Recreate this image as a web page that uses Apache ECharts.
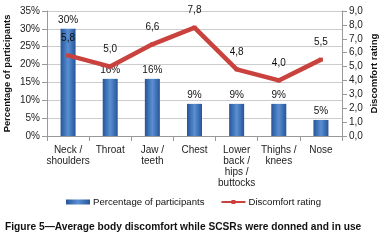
<!DOCTYPE html>
<html><head><meta charset="utf-8">
<script src="https://cdn.jsdelivr.net/npm/echarts@6/dist/echarts.min.js"></script>
<style>html,body{margin:0;padding:0;background:#fff}#c{width:385px;height:246px}</style>
</head><body><div id="c"></div>
<script>
const categories = ["Neck /\nshoulders", "Throat", "Jaw /\nteeth", "Chest", "Lower\nback /\nhips /\nbuttocks", "Thighs /\nknees", "Nose"];
const percentage = [30, 16, 16, 9, 9, 9, 4.5];
const discomfort = [5.8, 5.0, 6.6, 7.8, 4.8, 4.0, 5.5];
const leftTicks = [0, 35, 5];
const rightTicks = [0, 9, 1];
const caption = "Figure 5\u2014Average body discomfort while SCSRs were donned and in use";

const font = "Liberation Sans, Arial, sans-serif";
const chart = echarts.init(document.getElementById('c'));
chart.setOption({
  animation: false,
  textStyle: {fontFamily: font},
  grid: {left: 47, right: 43, top: 11, bottom: 110, containLabel: false, outerBoundsMode: 'none'},
  title: {text: caption, left: 5, top: 222, padding: 0, textStyle: {fontSize: 10.2, fontWeight: 'bold', color: '#111', fontFamily: font}},
  legend: {
    top: 197, left: 66, itemGap: 16, itemWidth: 24, itemHeight: 5, padding: 0,
    textStyle: {fontSize: 9.6, color: '#111', fontFamily: font, padding: [0, 0, 0, -2]},
    data: [{name: 'Percentage of participants', icon: 'rect'}, {name: 'Discomfort rating'}]
  },
  xAxis: {
    type: 'category', data: categories,
    axisLine: {lineStyle: {color: '#999'}},
    axisTick: {show: true, alignWithLabel: false, lineStyle: {color: '#999'}},
    axisLabel: {fontSize: 10, color: '#222', lineHeight: 11, interval: 0, margin: 9}
  },
  yAxis: [{
    type: 'value', min: leftTicks[0], max: leftTicks[1], interval: leftTicks[2],
    name: 'Percentage of participants', nameLocation: 'middle', nameGap: 35, nameMoveOverlap: false,
    nameTextStyle: {fontSize: 9.4, fontWeight: 'bold', color: '#111'},
    axisLine: {show: true, lineStyle: {color: '#999'}},
    axisTick: {show: true, lineStyle: {color: '#999'}},
    axisLabel: {formatter: '{value}%', fontSize: 10, color: '#222', margin: 7},
    splitLine: {lineStyle: {color: '#cccccc'}}
  }, {
    type: 'value', min: rightTicks[0], max: rightTicks[1], interval: rightTicks[2],
    name: 'Discomfort rating', nameLocation: 'middle', nameGap: 27, nameMoveOverlap: false,
    nameTextStyle: {fontSize: 9.6, fontWeight: 'bold', color: '#111'},
    axisLine: {show: true, lineStyle: {color: '#999'}},
    axisTick: {show: true, lineStyle: {color: '#999'}},
    axisLabel: {formatter: v => v.toFixed(1).replace('.', ','), fontSize: 10, color: '#222', margin: 7},
    splitLine: {show: false}
  }],
  series: [{
    name: 'Percentage of participants', type: 'bar', data: percentage, barWidth: 15,
    itemStyle: {color: new echarts.graphic.LinearGradient(0, 0, 1, 0, [
      {offset: 0, color: '#25559a'}, {offset: 0.5, color: '#5a8fd2'}, {offset: 1, color: '#25559a'}])},
    label: {show: true, position: 'top', distance: 4, fontSize: 10, color: '#111',
      formatter: p => Math.round(p.value) + '%'}
  }, {
    name: 'Discomfort rating', type: 'line', yAxisIndex: 1, data: discomfort,
    symbol: 'rect', symbolSize: 4, showSymbol: true,
    lineStyle: {color: '#c9423d', width: 4.5},
    itemStyle: {color: '#c9423d'},
    label: {show: true, position: 'top', distance: 10, fontSize: 10, color: '#111',
      formatter: p => p.value.toFixed(1).replace('.', ',')}
  }]
});
</script></body></html>
